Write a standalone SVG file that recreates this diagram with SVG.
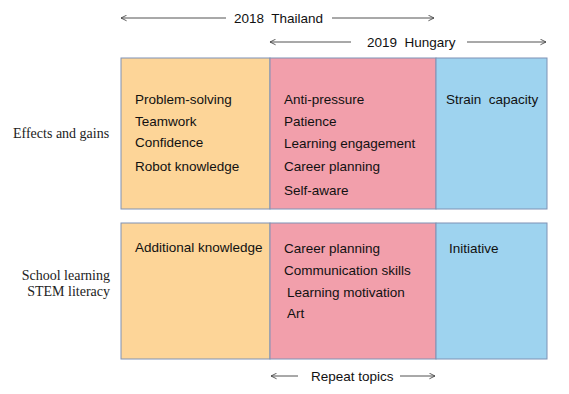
<svg xmlns="http://www.w3.org/2000/svg" width="569" height="394" viewBox="0 0 569 394">
<defs>
<marker id="ah" viewBox="0 0 10 10" refX="9" refY="5" markerWidth="7" markerHeight="7" orient="auto-start-reverse" markerUnits="userSpaceOnUse">
<path d="M1,1 L9,5 L1,9" fill="none" stroke="#404040" stroke-width="1.2"/>
</marker>
</defs>
<style>
.t{font-family:"Liberation Sans",Arial,sans-serif;font-size:13.5px;fill:#111}
.s{font-family:"Liberation Serif","Times New Roman",serif;font-size:14px;fill:#222}
.c{stroke:#7f92b5;stroke-width:1}
.o{fill:#FDD598}
.p{fill:#F29FAB}
.b{fill:#9ED3EF}
.ar{stroke:#404040;stroke-width:0.9;fill:none}
</style>
<rect width="569" height="394" fill="#fff"/>
<g id="connectors">
<line class="ar" x1="121" y1="18" x2="226" y2="18" marker-start="url(#ah)"/>
<line class="ar" x1="332" y1="18" x2="434" y2="18" marker-end="url(#ah)"/>
<line class="ar" x1="270" y1="42" x2="351" y2="42" marker-start="url(#ah)"/>
<line class="ar" x1="467" y1="42" x2="546" y2="42" marker-end="url(#ah)"/>
<line class="ar" x1="271" y1="376" x2="298" y2="376" marker-start="url(#ah)"/>
<line class="ar" x1="400" y1="376" x2="435" y2="376" marker-end="url(#ah)"/>
</g>
<g id="headers">
<text class="t" x="234" y="23" xml:space="preserve">2018  Thailand</text>
<text class="t" x="367" y="47" xml:space="preserve">2019  Hungary</text>
<text class="t" x="311" y="381">Repeat topics</text>
</g>
<g id="row-labels">
<text class="s" x="13" y="138">Effects and gains</text>
<text class="s" x="110" y="280" text-anchor="end">School learning</text>
<text class="s" x="110" y="296" text-anchor="end">STEM literacy</text>
</g>
<g id="thailand-effects">
<rect class="o c" x="121" y="58" width="149" height="151"/>
<text class="t" x="135" y="104">Problem-solving</text>
<text class="t" x="135" y="126">Teamwork</text>
<text class="t" x="135" y="147">Confidence</text>
<text class="t" x="135" y="171">Robot knowledge</text>
</g>
<g id="shared-effects">
<rect class="p c" x="270" y="58" width="166" height="151"/>
<text class="t" x="284" y="104">Anti-pressure</text>
<text class="t" x="284" y="126">Patience</text>
<text class="t" x="284" y="148">Learning engagement</text>
<text class="t" x="284" y="171">Career planning</text>
<text class="t" x="284" y="195">Self-aware</text>
</g>
<g id="hungary-effects">
<rect class="b c" x="436" y="58" width="111" height="151"/>
<text class="t" x="446" y="104" xml:space="preserve">Strain  capacity</text>
</g>
<g id="thailand-school">
<rect class="o c" x="121" y="223" width="149" height="136"/>
<text class="t" x="135" y="252">Additional knowledge</text>
</g>
<g id="shared-school">
<rect class="p c" x="270" y="223" width="166" height="136"/>
<text class="t" x="284" y="253">Career planning</text>
<text class="t" x="284" y="275">Communication skills</text>
<text class="t" x="287" y="297">Learning motivation</text>
<text class="t" x="287" y="318">Art</text>
</g>
<g id="hungary-school">
<rect class="b c" x="436" y="223" width="111" height="136"/>
<text class="t" x="449" y="253">Initiative</text>
</g>
</svg>
